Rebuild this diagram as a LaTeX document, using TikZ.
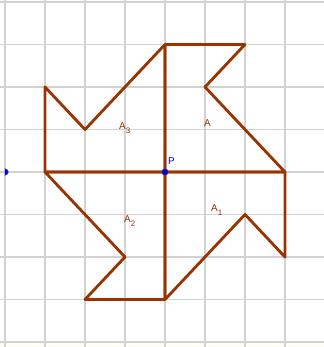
\documentclass[tikz,border=0pt]{standalone}
\usepackage{fontspec}
\newfontfamily\ggbfont{Liberation Sans}
\usetikzlibrary{positioning}
\definecolor{Poly}{RGB}{153,51,0}
\definecolor{Gridgray}{RGB}{210,210,210}
\definecolor{Ptblue}{RGB}{0,0,230}
\newcommand{\ggbsub}[1]{\raisebox{-3.2pt}{\fontsize{6.8}{7}\selectfont #1}}

\begin{document}
\begin{tikzpicture}[x=1.2cm,y=1.275cm]
        \tikzset{
          gridline/.style={draw=Gridgray,line width=1.4pt},
          polyedge/.style={draw=Poly,line width=2.4pt,line join=round},
          polylabel/.style={
            text=Poly,
            font=\ggbfont\fontsize{8.5}{10}\selectfont,
            anchor=base west,
            inner sep=0pt
          },
          ptdot/.style={
            circle,
            fill=Ptblue,
            draw=black!70,
            line width=0.4pt,
            minimum size=5.6pt,
            inner sep=0pt
          }
        }
        \useasboundingbox (-4.125,-4.118) rectangle (3.975,4.047);
        \clip (-4.125,-4.118) rectangle (3.975,4.047);
        \fill[white] (-4.125,-4.118) rectangle (3.975,4.047);
        \fill[yellow!8!white] (-4.125,-4.118) rectangle (3.975,-4.06);
        % grid
        \foreach \i in {-4,...,4} {
          \draw[gridline] (\i,-4.2) -- (\i,4.2);
          \draw[gridline] (-4.2,\i) -- (4.2,\i);
        }
        % vertices
        \coordinate (p) at (0,0);
        \coordinate (top) at (0,3);
        \coordinate (topr) at (2,3);
        \coordinate (dentA) at (1,2);
        \coordinate (right) at (3,0);
        \coordinate (rightb) at (3,-2);
        \coordinate (dentA1) at (2,-1);
        \coordinate (bot) at (0,-3);
        \coordinate (botl) at (-2,-3);
        \coordinate (dentA2) at (-1,-2);
        \coordinate (left) at (-3,0);
        \coordinate (leftt) at (-3,2);
        \coordinate (dentA3) at (-2,1);
        % four polygons
        \draw[polyedge] (p) -- (top) -- (topr) -- (dentA) -- (right) -- cycle;
        \draw[polyedge] (p) -- (right) -- (rightb) -- (dentA1) -- (bot) -- cycle;
        \draw[polyedge] (p) -- (bot) -- (botl) -- (dentA2) -- (left) -- cycle;
        \draw[polyedge] (p) -- (left) -- (leftt) -- (dentA3) -- (top) -- cycle;
        % labels
        \node[polylabel] (labA) at (0.975,1.08) {A};
        \node[polylabel] (labA1) at (1.15,-0.94) {A\ggbsub{1}};
        \node[polylabel] (labA2) at (-1.025,-1.2) {A\ggbsub{2}};
        \node[polylabel] (labA3) at (-1.15,0.99) {A\ggbsub{3}};
        % points
        \node[ptdot] (ptP) at (p) {};
        \begin{scope}
          \clip (-4,-1) rectangle (-3.5,1);
          \node[ptdot] (ptQ) at (-4,0) {};
        \end{scope}
        \node[polylabel,text=Ptblue] (labP) at (0.075,0.165) {P};
      \end{tikzpicture}
\end{document}
